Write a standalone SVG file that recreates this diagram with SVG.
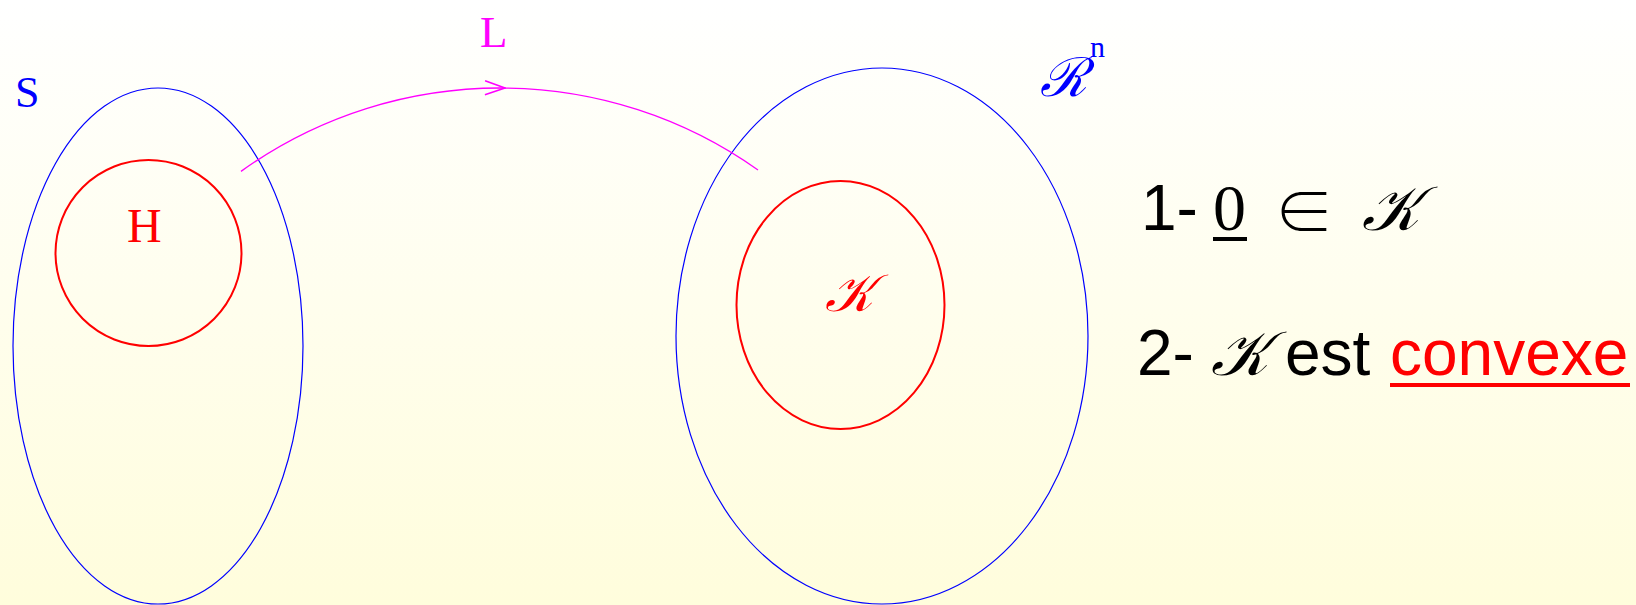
<svg xmlns="http://www.w3.org/2000/svg" width="1636" height="605" viewBox="0 0 1636 605">
  <defs>
    <linearGradient id="bg" x1="0" y1="0" x2="0" y2="1">
      <stop offset="0" stop-color="#ffffff"/>
      <stop offset="1" stop-color="#fffddc"/>
    </linearGradient>
    <marker id="chev" viewBox="0 0 22 16" refX="21" refY="8" markerWidth="22" markerHeight="16" markerUnits="userSpaceOnUse" orient="auto">
      <path d="M1,1 L21,8 L1,15" fill="none" stroke="#ff00ff" stroke-width="1.6"/>
    </marker>
  </defs>
  <style>
    .blue { fill: none; stroke: #0000ff; stroke-width: 1.2; }
    .red { fill: none; stroke: #ff0000; stroke-width: 2; }
    .serif { font-family: "Liberation Serif", "DejaVu Serif", serif; }
    .sans { font-family: "Liberation Sans", Arial, sans-serif; }
    .math { font-family: "DejaVu Serif", "Liberation Serif", serif; }
    .thin { font-family: "Noto Sans CJK JP", "DejaVu Sans", sans-serif; font-weight: 300; }
  </style>
  <rect width="1636" height="605" fill="url(#bg)"/>

  <g id="S">
    <ellipse class="blue" cx="158" cy="346" rx="145" ry="258"/>
    <text class="serif" x="15" y="107" font-size="44" fill="#0000ff">S</text>
  </g>
  <g id="H">
    <circle class="red" cx="148.5" cy="253" r="93"/>
    <text class="serif" x="127" y="242" font-size="48" fill="#ff0000">H</text>
  </g>
  <g id="Rn">
    <ellipse class="blue" cx="882" cy="336" rx="206" ry="268"/>
    <text class="math" x="1040" y="96" font-size="54" font-style="italic" fill="#0000ff">ℛ</text>
    <text class="serif" x="1090" y="57" font-size="30" fill="#0000ff">n</text>
  </g>
  <g id="K">
    <ellipse class="red" cx="840.5" cy="305" rx="104" ry="124"/>
    <text class="math" x="825" y="311" font-size="52" font-style="italic" fill="#ff0000">𝒦</text>
  </g>

  <g id="connectors">
    <path d="M241,171.4 A444,444 0 0 1 505,88.03" fill="none" stroke="#ff00ff" stroke-width="1.3" marker-end="url(#chev)"/>
    <path d="M505,88.03 A444,444 0 0 1 758,170" fill="none" stroke="#ff00ff" stroke-width="1.3"/>
    <text class="serif" x="480" y="47" font-size="45" fill="#ff00ff">L</text>
  </g>

  <g id="conditions">
    <text class="sans" x="1141" y="230" font-size="64" fill="#000000">1-</text>
    <text class="serif" x="1213" y="230" font-size="66" fill="#000000">0</text>
    <rect x="1213" y="237" width="34" height="4" fill="#000000"/>
    <text class="thin" x="1274" y="234" font-size="60" fill="#000000">∈</text>
    <text class="math" x="1362" y="230" font-size="62" font-style="italic" fill="#000000">𝒦</text>

    <text class="sans" x="1137" y="375" font-size="64" fill="#000000">2-</text>
    <text class="math" x="1211" y="375" font-size="62" font-style="italic" fill="#000000">𝒦</text>
    <text class="sans" x="1285" y="375" font-size="64" fill="#000000">est</text>
    <text class="sans" x="1390" y="375" font-size="64" fill="#ff0000">convexe</text>
    <rect x="1390" y="383" width="240" height="4" fill="#ff0000"/>
  </g>
</svg>
